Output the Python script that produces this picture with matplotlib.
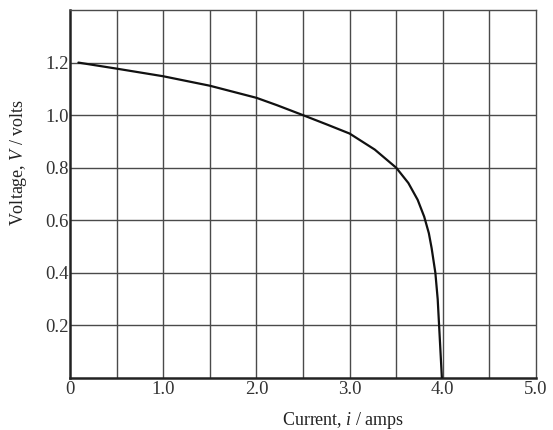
import matplotlib
matplotlib.use("Agg")
import matplotlib.pyplot as plt

plt.rcParams['font.family'] = 'Liberation Serif'
plt.rcParams['mathtext.fontset'] = 'custom'
plt.rcParams['mathtext.rm'] = 'Liberation Serif'
plt.rcParams['mathtext.it'] = 'Liberation Serif:italic'

# polarisation curve
current = [0.09, 0.5, 1.0, 1.5, 2.0, 2.22, 2.5, 2.76, 3.0, 3.27, 3.5, 3.63, 3.73, 3.80,
           3.85, 3.88, 3.92, 3.945, 3.96, 3.975, 3.99]
voltage = [1.20, 1.177, 1.148, 1.112, 1.066, 1.038, 1.0, 0.964, 0.93, 0.869, 0.80, 0.742, 0.678, 0.614,
           0.551, 0.494, 0.40, 0.30, 0.20, 0.10, 0.0]

x_ticks = [0, 1.0, 2.0, 3.0, 4.0, 5.0]
x_labels = ['0', '1.0', '2.0', '3.0', '4.0', '5.0']
y_ticks = [0.2, 0.4, 0.6, 0.8, 1.0, 1.2]
y_labels = ['0.2', '0.4', '0.6', '0.8', '1.0', '1.2']

fig = plt.figure(figsize=(5.53, 4.30), dpi=100)
ax = fig.add_axes([0.1266, 0.1209, 0.8427, 0.8558])

grid_col = '#4a4a4a'
for gx in [0.5 * k for k in range(1, 10)]:
	ax.axvline(gx, color=grid_col, lw=1.0, zorder=1)
for gy in [0.2 * k for k in range(1, 7)]:
	ax.axhline(gy, color=grid_col, lw=1.0, zorder=1)

ax.plot(current, voltage, color='#111111', lw=1.6, zorder=3,
	solid_joinstyle='round', solid_capstyle='round')

ax.set_xlim(0, 5.0)
ax.set_ylim(0, 1.4)
ax.set_xticks(x_ticks)
ax.set_xticklabels(x_labels)
ax.set_yticks(y_ticks)
ax.set_yticklabels(y_labels)
ax.tick_params(length=0, labelsize=13.5, colors='#333333')
ax.tick_params(axis='x', pad=2)
ax.tick_params(axis='y', pad=1)

for side in ['top', 'right']:
	ax.spines[side].set_color(grid_col)
	ax.spines[side].set_linewidth(1.0)
for side in ['left', 'bottom']:
	ax.spines[side].set_color('#222222')
	ax.spines[side].set_linewidth(1.8)

ax.set_xlabel('Current, $i$ / amps', fontsize=13, color='#222222')
ax.set_ylabel('Voltage, $V$ / volts', fontsize=13, color='#222222')
ax.xaxis.set_label_coords(0.586, -0.087)
ax.yaxis.set_label_coords(-0.088, 0.587)

fig.savefig('out.png', dpi=100)
